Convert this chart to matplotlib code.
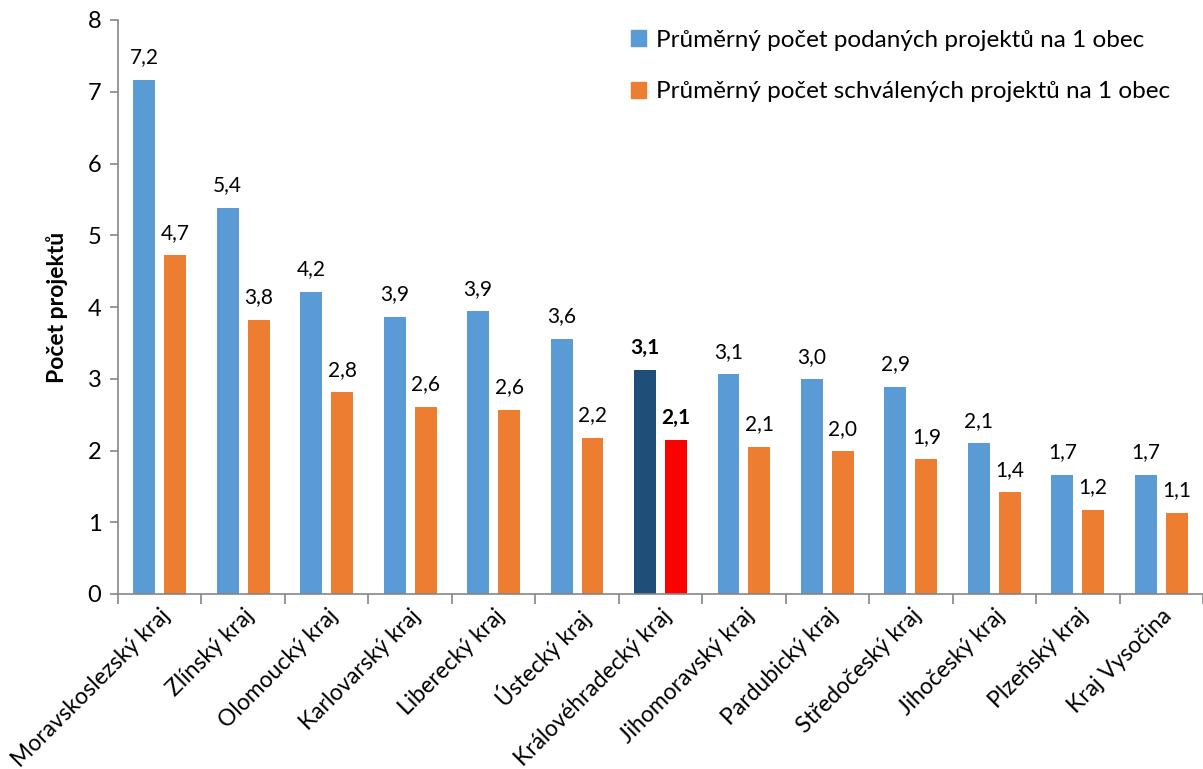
import numpy as np
import matplotlib.pyplot as plt

plt.rcParams['font.family'] = ['Lato', 'DejaVu Sans']

kraje = ['Moravskoslezský kraj', 'Zlínský kraj', 'Olomoucký kraj', 'Karlovarský kraj',
         'Liberecký kraj', 'Ústecký kraj', 'Královéhradecký kraj', 'Jihomoravský kraj',
         'Pardubický kraj', 'Středočeský kraj', 'Jihočeský kraj', 'Plzeňský kraj',
         'Kraj Vysočina']
podane = [7.17, 5.38, 4.21, 3.86, 3.94, 3.56, 3.12, 3.06, 2.99, 2.89, 2.10, 1.66, 1.66]
schvalene = [4.72, 3.82, 2.81, 2.61, 2.57, 2.18, 2.14, 2.05, 1.99, 1.88, 1.42, 1.17, 1.13]
popisky_podane = ['7,2', '5,4', '4,2', '3,9', '3,9', '3,6', '3,1', '3,1', '3,0', '2,9', '2,1', '1,7', '1,7']
popisky_schvalene = ['4,7', '3,8', '2,8', '2,6', '2,6', '2,2', '2,1', '2,1', '2,0', '1,9', '1,4', '1,2', '1,1']
zvyrazneny = 'Královéhradecký kraj'

modra = '#5B9BD5'
oranzova = '#ED7D31'

fig = plt.figure(figsize=(12.03, 7.69), dpi=100)
ax = fig.add_axes([118 / 1203, 1 - 594 / 769, 1 - 118 / 1203, (594 - 20) / 769])

x = np.arange(len(kraje))
w = 0.263
off = 0.185
barvy1 = ['#1F4E79' if k == zvyrazneny else modra for k in kraje]
barvy2 = ['#FF0000' if k == zvyrazneny else oranzova for k in kraje]
b1 = ax.bar(x - off, podane, w, color=barvy1, label='Průměrný počet podaných projektů na 1 obec')
b2 = ax.bar(x + off, schvalene, w, color=barvy2, label='Průměrný počet schválených projektů na 1 obec')

for i, k in enumerate(kraje):
    tucne = 'bold' if k == zvyrazneny else 'normal'
    ax.annotate(popisky_podane[i], (x[i] - off, podane[i]), xytext=(0, 9), textcoords='offset points',
                ha='center', va='bottom', fontsize=15, fontweight=tucne)
    ax.annotate(popisky_schvalene[i], (x[i] + off, schvalene[i]), xytext=(0, 9), textcoords='offset points',
                ha='center', va='bottom', fontsize=15, fontweight=tucne)

ax.set_xlim(-0.5, len(kraje) - 0.5)
ax.set_ylim(0, 8)
ax.set_yticks(range(0, 9))
ax.tick_params(axis='y', labelsize=17, length=6, color='#868686', width=1.2, pad=6)

# popisky kategorii a carky na hranicich
ax.set_xticks(x)
ax.set_xticklabels(kraje, rotation=45, ha='right', rotation_mode='anchor', fontsize=16.5)
ax.tick_params(axis='x', which='major', length=0, pad=8)
ax.set_xticks(np.arange(-0.5, len(kraje), 1), minor=True)
ax.tick_params(axis='x', which='minor', length=7, color='#868686', width=1.2)

for s in ['top', 'right']:
    ax.spines[s].set_visible(False)
ax.spines['left'].set_color('#868686')
ax.spines['bottom'].set_color('#868686')
ax.spines['left'].set_linewidth(1.2)
ax.spines['bottom'].set_linewidth(1.2)

ax.set_ylabel('Počet projektů', fontsize=16.5, fontweight='bold', labelpad=14)

leg = ax.legend(handles=[b1[0], b2[0]], labels=[b1.get_label(), b2.get_label()],
                loc='upper right', bbox_to_anchor=(0.99, 1.021), frameon=False, fontsize=17.5,
                labelspacing=1.25, handlelength=0.65, handleheight=0.65, handletextpad=0.4)
leg.legend_handles[0].set_color(modra)
leg.legend_handles[1].set_color(oranzova)

fig.savefig('out.png', dpi=100)
